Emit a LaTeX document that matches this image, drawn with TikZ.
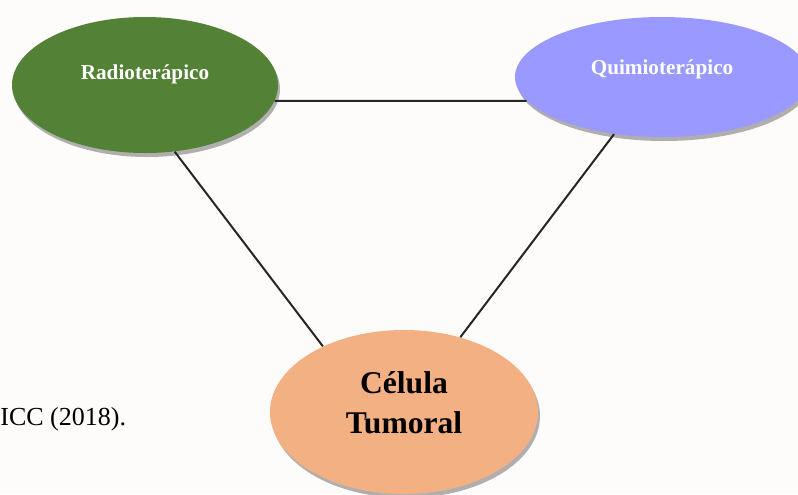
\documentclass[tikz,border=0pt]{standalone}
\usepackage{fontspec}
\setmainfont{Liberation Serif}
\usetikzlibrary{shapes.geometric,shadows}
\definecolor{radgreen}{RGB}{83,129,53}
\definecolor{quimblue}{RGB}{153,153,255}
\definecolor{celorange}{RGB}{243,176,131}
\definecolor{linegray}{RGB}{38,38,38}
\definecolor{paper}{RGB}{253,252,250}

\begin{document}
\begin{tikzpicture}[x=0.5pt,y=0.5pt,
  blob/.style={shape=ellipse,inner sep=0pt,
    drop shadow={shadow xshift=1pt,shadow yshift=-2pt,opacity=0.3,fill=black}},
  blobtext/.style={font=\fontsize{10.6}{13}\selectfont\bfseries,text=white},
  link/.style={draw=linegray,line width=1pt}]
\useasboundingbox [fill=paper] (0,0) rectangle (798,-494);

% ellipses
\path (145,-85) node (rad) [blob,fill=radgreen,minimum width=133pt,minimum height=68pt] {};
\path (662,-77) node (quim) [blob,fill=quimblue,minimum width=147pt,minimum height=60pt] {};
\path (404,-412) node (cel) [blob,fill=celorange,minimum width=134pt,minimum height=82pt] {};

% texts
\path ([yshift=5.5pt]rad.center) node (radtext) [blobtext] {Radioterápico};
\path ([yshift=4pt]quim.center) node (quimtext) [blobtext] {Quimioterápico};
\path ([yshift=4.5pt]cel.center) node (celtext) [align=center,font=\fontsize{15.8}{20}\selectfont\bfseries] {Célula\\Tumoral};
\path (0,-425) node (fonte) [anchor=base west,inner sep=0pt,font=\fontsize{13}{15}\selectfont] {ICC (2018).};

\draw [link] (rad.-7) to (quim.-170);
\draw [link] (rad.-66) to (cel.141);
\draw [link] (quim.-130) to (cel.53);
\end{tikzpicture}
\end{document}
